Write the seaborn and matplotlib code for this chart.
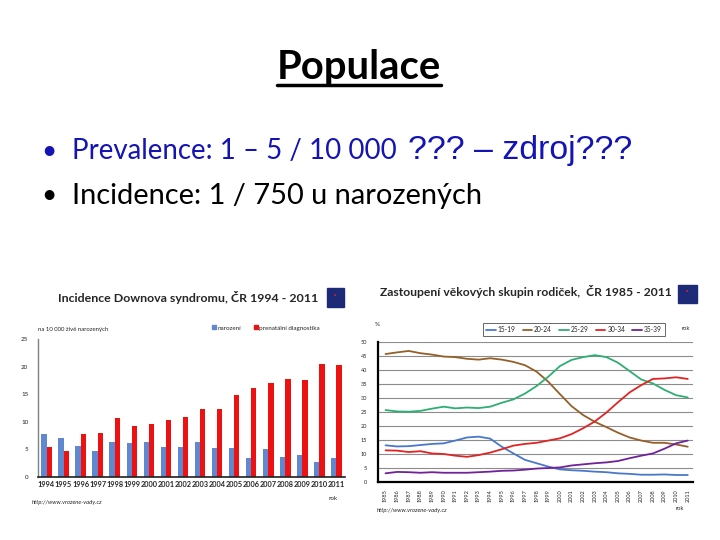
import numpy as np
import pandas as pd
import matplotlib
matplotlib.use("Agg")
import matplotlib.pyplot as plt
from matplotlib.lines import Line2D
from matplotlib.patches import Rectangle
import seaborn as sns

# --- data: incidence Downova syndromu (na 10 000 zive narozenych) ---
roky_inc = [1994, 1995, 1996, 1997, 1998, 1999, 2000, 2001, 2002,
            2003, 2004, 2005, 2006, 2007, 2008, 2009, 2010, 2011]
narozeni = [7.8, 7.1, 5.6, 4.7, 6.3, 6.2, 6.3, 5.4, 5.4,
            6.3, 5.3, 5.3, 3.4, 5.1, 3.6, 4.0, 2.7, 3.4]
prenatalni = [5.4, 4.7, 7.8, 8.0, 10.7, 9.2, 9.6, 10.3, 10.9,
              12.3, 12.4, 14.8, 16.1, 17.0, 17.7, 17.6, 20.5, 20.3]

# --- data: zastoupeni vekovych skupin rodicek (%) ---
roky_vek = list(range(1985, 2012))
vek_15_19 = [13.1, 12.7, 12.8, 13.2, 13.6, 13.8, 14.8, 15.9, 16.2, 15.5, 12.6, 10.2, 7.9, 6.7,
             5.5, 4.5, 4.2, 4.0, 3.7, 3.5, 3.1, 2.9, 2.6, 2.6, 2.7, 2.5, 2.5]
vek_20_24 = [45.7, 46.3, 46.8, 46.0, 45.5, 44.8, 44.6, 44.0, 43.7, 44.2, 43.7, 42.9, 41.7, 39.4,
             35.8, 31.4, 27.1, 23.9, 21.5, 19.6, 17.6, 15.9, 14.8, 14.0, 14.0, 13.4, 12.6]
vek_25_29 = [25.7, 25.2, 25.1, 25.4, 26.2, 26.9, 26.3, 26.6, 26.4, 26.9, 28.3, 29.5, 31.6, 34.3,
             37.6, 41.4, 43.6, 44.6, 45.3, 44.6, 42.6, 39.6, 36.6, 35.2, 32.9, 31.0, 30.2]
vek_30_34 = [11.3, 11.2, 10.7, 11.0, 10.2, 10.0, 9.4, 9.0, 9.6, 10.5, 11.7, 13.0, 13.6, 14.0,
             14.8, 15.6, 17.1, 19.2, 21.6, 24.8, 28.5, 32.0, 34.6, 36.8, 37.0, 37.4, 36.8]
vek_35_39 = [3.1, 3.6, 3.5, 3.3, 3.5, 3.3, 3.3, 3.3, 3.5, 3.7, 4.0, 4.1, 4.4, 4.8,
             5.0, 5.2, 5.9, 6.3, 6.7, 7.0, 7.5, 8.5, 9.4, 10.2, 11.9, 13.8, 14.8]
skupiny = ["15-19", "20-24", "25-29", "30-34", "35-39"]
barvy_vek = ["#4A78C8", "#94602A", "#2FAE72", "#E02424", "#70229A"]
barvy_inc = ["#6088D0", "#EE1111"]

W, H = 720, 540


def fx(x):
    return x / W


def fy(y):
    return 1 - y / H


sns.set_theme(style="white")
plt.rcParams["font.family"] = ["Lato", "DejaVu Sans"]

fig = plt.figure(figsize=(7.2, 5.4), dpi=100)
fig.patch.set_facecolor("white")
r = fig.canvas.get_renderer()


def fit(t, width_px):
    # zmensi/zvetsi font tak, aby text mel danou sirku v pixelech
    w = t.get_window_extent(r).width
    t.set_fontsize(t.get_fontsize() * width_px / w)
    return t


# --- slide text ---
title = fig.text(fx(359), fy(67), "Populace", ha="center", va="center",
                 fontsize=28, fontweight="bold", color="black")
fit(title, 164)
fig.text(fx(49), fy(151), "•", ha="center", va="center", fontsize=19, color="#1414B4")
t1 = fig.text(fx(72), fy(151), "Prevalence: 1 – 5 / 10 000", ha="left", va="center",
              fontsize=19, color="#1414B4")
fit(t1, 323)
t1b = fig.text(fx(408), fy(150), "??? – zdroj???", ha="left", va="center", fontsize=22,
               color="#1414B4", family=["Liberation Sans", "DejaVu Sans"])
fit(t1b, 224)
fig.text(fx(49), fy(196), "•", ha="center", va="center", fontsize=19, color="black")
t2 = fig.text(fx(72), fy(196), "Incidence: 1 / 750 u narozených", ha="left", va="center",
              fontsize=19, color="black")
fit(t2, 410)

tb = title.get_window_extent(r)
fig.add_artist(Line2D([tb.x0 / W, tb.x1 / W], [fy(85), fy(85)], color="black", lw=2.5))

# ===================== left chart: bars =====================
df_inc = pd.DataFrame({
    "rok": roky_inc * 2,
    "hodnota": narozeni + prenatalni,
    "skupina": ["narození"] * len(roky_inc) + ["prenatální diagnostika"] * len(roky_inc),
})
ax1 = fig.add_axes([fx(38), fy(477), (345 - 38) / W, (477 - 339) / H])
sns.barplot(data=df_inc, x="rok", y="hodnota", hue="skupina",
            palette=barvy_inc, width=0.62, ax=ax1, saturation=1,
            edgecolor="none", linewidth=0, legend=False)
ax1.set_ylim(0, 25)
ax1.set_xlim(-0.5, 17.5)
ax1.set_yticks(range(0, 26, 5))
ax1.tick_params(axis="y", labelsize=4.5, length=2, pad=5, width=0.6)
ax1.tick_params(axis="x", labelsize=5.3, length=0, pad=3)
for lab in ax1.get_xticklabels():
    lab.set_fontweight("bold")
ax1.set_xlabel("")
ax1.set_ylabel("")
for s in ["top", "right"]:
    ax1.spines[s].set_visible(False)
ax1.spines["left"].set_color("#808080")
ax1.spines["left"].set_linewidth(1.0)
ax1.spines["bottom"].set_color("#202020")
ax1.spines["bottom"].set_linewidth(1.2)

t3 = fig.text(fx(58), fy(298), "Incidence Downova syndromu, ČR 1994 - 2011", ha="left",
              va="center", fontsize=8.5, fontweight="bold")
fit(t3, 260)
fig.add_artist(Rectangle((fx(327), fy(307)), 17 / W, 19 / H, color="#1C2A78"))
fig.text(fx(335.5), fy(294), "●", ha="center", va="center", fontsize=3, color="#E02020")
fig.text(fx(38), fy(329), "na 10 000 živě narozených", ha="left", va="center", fontsize=4.3)
h_inc = [Rectangle((0, 0), 1, 1, color=c) for c in barvy_inc]
fig.legend(h_inc, ["narození", "prenatální diagnostika"], loc="center",
           bbox_to_anchor=(fx(266), fy(328)), ncol=2, frameon=False, fontsize=4.5,
           handlelength=0.6, handleheight=0.6, handletextpad=0.2, columnspacing=2.2)
fig.text(fx(32), fy(502), "http://www.vrozene-vady.cz", ha="left", va="center",
         fontsize=4.2, style="italic")
fig.text(fx(333), fy(499), "rok", ha="center", va="center", fontsize=4.5)

# ===================== right chart: lines =====================
df_vek = pd.DataFrame({
    "rok": roky_vek * 5,
    "podil": vek_15_19 + vek_20_24 + vek_25_29 + vek_30_34 + vek_35_39,
    "skupina": sum([[s] * len(roky_vek) for s in skupiny], []),
})
ax2 = fig.add_axes([fx(378), fy(482), (693 - 378) / W, (482 - 342) / H])
sns.lineplot(data=df_vek, x="rok", y="podil", hue="skupina", hue_order=skupiny,
             palette=barvy_vek, linewidth=1.3, ax=ax2, legend=False)
ax2.set_xlim(1984.35, 2011.45)
ax2.set_ylim(0, 50)
ax2.set_yticks(range(0, 51, 5))
ax2.set_xticks(roky_vek)
ax2.set_xticklabels([str(r_) for r_ in roky_vek], rotation=90)
ax2.tick_params(axis="y", labelsize=4, length=2, pad=6, width=0.6)
ax2.tick_params(axis="x", labelsize=4, length=2, pad=3, width=0.6)
ax2.grid(axis="y", color="#8C8C8C", lw=0.8)
ax2.set_axisbelow(True)
ax2.set_xlabel("")
ax2.set_ylabel("")
for s in ["top", "right"]:
    ax2.spines[s].set_visible(False)
for s in ["left", "bottom"]:
    ax2.spines[s].set_color("black")
    ax2.spines[s].set_linewidth(1.6)

t4 = fig.text(fx(380), fy(292), "Zastoupení věkových skupin rodiček,  ČR 1985 - 2011",
              ha="left", va="center", fontsize=8.3, fontweight="bold")
fit(t4, 293)
fig.add_artist(Rectangle((fx(678), fy(303)), 19 / W, 18 / H, color="#1C2A78"))
fig.text(fx(687.5), fy(290), "●", ha="center", va="center", fontsize=3, color="#E02020")
fig.text(fx(377), fy(325), "%", ha="center", va="center", fontsize=4.5)
h_vek = [Line2D([0], [0], color=c, lw=1.3) for c in barvy_vek]
leg = fig.legend(h_vek, skupiny, loc="center", bbox_to_anchor=(fx(574), fy(329.5)),
                 ncol=5, frameon=True, fancybox=False, fontsize=4.8, handlelength=1.4,
                 handletextpad=0.3, columnspacing=1.1, borderpad=0.45)
leg.get_frame().set_edgecolor("#404040")
leg.get_frame().set_linewidth(0.7)
fig.text(fx(686), fy(328), "rok", ha="center", va="center", fontsize=4.2)
fig.text(fx(377), fy(510), "http://www.vrozene-vady.cz", ha="left", va="center",
         fontsize=4.2, style="italic")
fig.text(fx(680), fy(508), "rok", ha="center", va="center", fontsize=4.2)

fig.savefig("out.png", dpi=100)
